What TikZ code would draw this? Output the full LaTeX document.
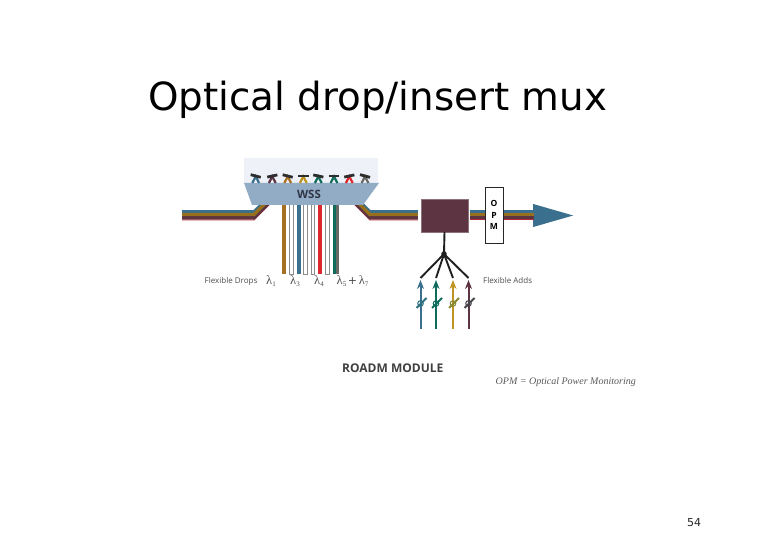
\documentclass[tikz,border=0pt]{standalone}
\usepackage{fontspec}
\setmainfont{DejaVu Sans}
\newfontfamily\labelfont{Open Sans}
\newfontfamily\lamfont{Liberation Serif}
\usetikzlibrary{shapes.geometric, arrows.meta, positioning}
\definecolor{roadmblue}{RGB}{58, 112, 142}
\definecolor{roadmgold}{RGB}{150, 112, 28}
\definecolor{roadmwine}{RGB}{92, 52, 66}
\definecolor{roadmred}{RGB}{222, 38, 46}
\definecolor{roadmgreen}{RGB}{14, 108, 92}
\definecolor{roadmyellow}{RGB}{190, 148, 34}
\definecolor{roadmgrey}{RGB}{104, 104, 100}
\definecolor{roadmbrown}{RGB}{168, 112, 36}
\definecolor{wssblue}{RGB}{146, 172, 198}
\definecolor{wsspale}{RGB}{238, 241, 247}
\definecolor{wssink}{RGB}{48, 54, 70}
\newcommand{\lam}[1]{{\lamfont\fontsize{12.5}{12}\selectfont λ\raisebox{-1.5pt}{\fontsize{7}{7}\selectfont #1}}}
\tikzset{
  titletext/.style={font=\fontsize{38.8}{44}\selectfont, text=black, inner sep=0pt},
  smalltext/.style={font=\labelfont\fontsize{8}{9}\selectfont, text=black!70, inner sep=0pt},
  lamtext/.style={text=black!70, inner sep=0pt},
  muxbox/.style={rectangle, draw=roadmwine!70, fill=roadmwine, minimum width=47pt, minimum height=33pt, inner sep=0pt},
  opmbox/.style={rectangle, draw=black!85, fill=white, line width=0.8pt, minimum width=18pt, minimum height=56pt, inner sep=0pt,
    align=center, font=\labelfont\bfseries\fontsize{8.5}{11.5}\selectfont},
  headtip/.style={isosceles triangle, isosceles triangle stretches, fill=roadmblue, minimum height=40pt, minimum width=23pt, inner sep=0pt},
  dropline/.style={line width=4pt},
  freeline/.style={draw=black!45, fill=white, line width=0.5pt},
  joinline/.style={line width=1.9pt, color=black!88},
  addarr/.style={-{Stealth[length=9pt, width=7pt]}, line width=2pt},
  addslash/.style={line width=2pt},
}
\begin{document}
\begin{tikzpicture}[x=1pt, y=-1pt]
  \useasboundingbox (0,0) rectangle (780,540);
  \node[titletext, anchor=base west] (title) at (148,111) {Optical drop/insert mux};
  \node[muxbox] (mux) at (444.5,215.5) {};
  \node[headtip, anchor=lower side] (head) at (533,215.5) {};
  % incoming and outgoing fibre
  \foreach \o/\w/\c in {4.4/1.2/roadmred!65!roadmwine, 2.2/3.4/roadmwine, -4/2.6/roadmblue, -1/3.4/roadmgold} {
    \draw[line width=\w pt, color=\c] (182,215.5+\o) -- (254,215.5+\o) -- (272,197.5+\o);
    \draw[line width=\w pt, color=\c] (352,197.5+\o) -- (370,215.5+\o) -- ([shift={(-3,\o)}]mux.west);
    \draw[line width=\w pt, color=\c] ([shift={(2,\o)}]mux.east) -- ([shift={(1,\o)}]head.lower side);
  }
  \node[opmbox] (opm) at (494,215) {O\\P\\M};
  % drops
  \foreach \x/\c in {283.7/roadmbrown, 298.5/roadmblue, 320/roadmred, 334.5/roadmgreen} {
    \draw[dropline, color=\c] (\x,200) -- (\x,274);
  }
  \draw[line width=2.6pt, color=roadmgrey] (337.5,200) -- (337.5,274);
  \foreach \x in {289.5, 303.5, 311, 325.5} {
    \draw[freeline] (\x,200) rectangle (\x+3.4,274);
  }
  % wss
  \fill[wsspale] (244,158) rectangle (378,183);
  \fill[wssblue] (244,183) -- (379,183) -- (363,205) -- (252,205) -- cycle;
  \node[font=\labelfont\bfseries\fontsize{11.5}{12}\selectfont, text=wssink, inner sep=0pt] (wss) at (309,194.5) {WSS};
  \foreach \x/\c/\t in {255.7/roadmblue/-15, 272.3/roadmwine/12, 287.7/roadmbrown/-14, 303.3/roadmyellow/0, 318.3/roadmgreen/-12, 334/roadmgreen/0, 349.3/roadmred/12, 365/roadmgrey/-15} {
    \draw[line width=2.2pt, color=\c] (\x-3.4,183) -- (\x,176.5) -- (\x+3.4,183);
    \draw[line width=2.8pt, color=black!82, rotate around={\t:(\x,176)}] (\x-5.2,176) -- (\x+5.2,176);
  }
  % adds
  \coordinate (join) at (444,254);
  \draw[joinline] (mux.south) -- (join);
  \fill[black!88] (join) circle (2.8pt);
  \foreach \n/\x/\c in {a/420.5/roadmblue, b/436/roadmgreen, c/453/roadmyellow, d/468.5/roadmwine} {
    \coordinate (\n top) at (\x,278);
    \coordinate (\n tip) at (\x,280);
    \coordinate (\n end) at (\x,329);
    \draw[joinline] (join) -- (\n top);
    \draw[addarr, color=\c] (\n end) -- (\n tip);
    \draw[addslash, color=\c!70!roadmgreen] (\x-4,308) -- (\x+6,298);
    \draw[line width=1pt, color=\c!70!roadmgreen] (\x,303.5) circle (2.8pt);
  }
  \node[smalltext, anchor=west] (drops) at (204.5,281) {Flexible Drops};
  \node[lamtext] (lamone) at (271,281) {\lam{1}};
  \node[lamtext] (lamthree) at (295,281) {\lam{3}};
  \node[lamtext] (lamfour) at (319,281) {\lam{4}};
  \node[lamtext, anchor=west] (lamfive) at (336.5,281) {\lam{5}\,{\fontsize{11}{11}\selectfont +}\,\lam{7}};
  \node[smalltext, anchor=west] (adds) at (483,280.5) {Flexible Adds};
  \node[font=\labelfont\bfseries\fontsize{12}{13}\selectfont, text=black!75, inner sep=0pt, anchor=west] (module) at (342,368) {ROADM MODULE};
  \node[font=\lamfont\itshape\fontsize{10}{11}\selectfont, text=black!65, inner sep=0pt, anchor=west] (opmnote) at (495.5,382) {OPM = Optical Power Monitoring};
  \node[font=\fontsize{11}{13}\selectfont, text=black!85, inner sep=0pt] (pagenum) at (694,523) {54};
\end{tikzpicture}
\end{document}
